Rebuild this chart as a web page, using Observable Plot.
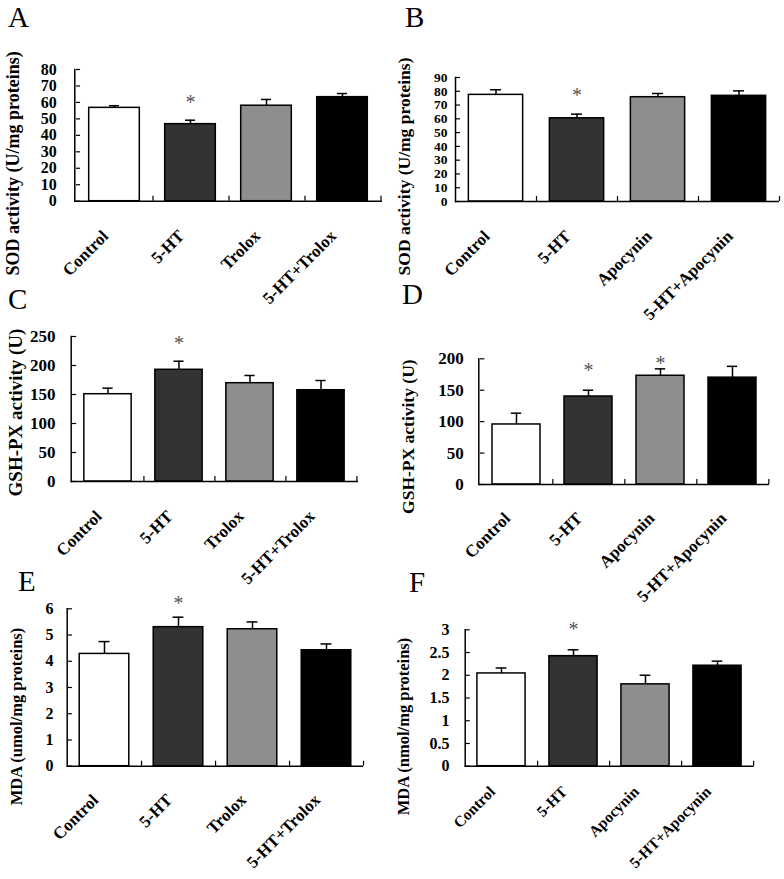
<!DOCTYPE html>
<html><head><meta charset="utf-8">
<script src="https://cdn.jsdelivr.net/npm/d3@7"></script>
<script src="https://cdn.jsdelivr.net/npm/@observablehq/plot@0.6"></script>
<style>
body{margin:0;background:#fff;}
#fig{position:relative;width:784px;height:879px;overflow:hidden;background:#fff;}
.panel{position:absolute;}
.letter{position:absolute;font-family:"Liberation Serif","Times New Roman",serif;font-size:29px;line-height:32px;color:#000;}
</style></head><body><div id="fig"></div>
<script>
// ---- data ----
const groupsTrolox = ["Control", "5-HT", "Trolox", "5-HT+Trolox"];
const groupsApocynin = ["Control", "5-HT", "Apocynin", "5-HT+Apocynin"];
const barFills = ["#ffffff", "#333333", "#8e8e8e", "#000000"];

const sodTroloxMean = [56.7, 46.8, 58.0, 63.2];
const sodTroloxSem = [1.3, 2.4, 3.8, 2.2];
const sodApocyninMean = [77.4, 60.4, 75.7, 76.7];
const sodApocyninSem = [3.7, 3.0, 2.7, 3.6];
const gshTroloxMean = [150.5, 192.6, 169.5, 157.4];
const gshTroloxSem = [10.4, 14.8, 13.3, 16.7];
const gshApocyninMean = [95.5, 140, 173, 170];
const gshApocyninSem = [18, 10, 11, 18];
const mdaTroloxMean = [4.28, 5.30, 5.22, 4.42];
const mdaTroloxSem = [0.47, 0.38, 0.28, 0.24];
const mdaApocyninMean = [2.04, 2.42, 1.80, 2.21];
const mdaApocyninSem = [0.12, 0.14, 0.20, 0.10];

const ticksSodTrolox = [0, 10, 20, 30, 40, 50, 60, 70, 80];
const ticksSodApocynin = [0, 10, 20, 30, 40, 50, 60, 70, 80, 90];
const ticksGshTrolox = [0, 50, 100, 150, 200, 250];
const ticksGshApocynin = [0, 50, 100, 150, 200];
const ticksMdaTrolox = [0, 1, 2, 3, 4, 5, 6];
const ticksMdaApocynin = [0, 0.5, 1, 1.5, 2, 2.5, 3];

// significance markers: [group, y position in data units]
const starsA = [["5-HT", 63]];
const starsB = [["5-HT", 80.5]];
const starsC = [["5-HT", 246]];
const starsD = [["5-HT", 189.5], ["Apocynin", 200]];
const starsE = [["5-HT", 6.4]];
const starsF = [["5-HT", 3.11]];

const panels = [
  {letter: "A", lx: 8, ly: 1, cats: groupsTrolox, means: sodTroloxMean, sem: sodTroloxSem, ticks: ticksSodTrolox, stars: starsA,
   ylabel: "SOD activity (U/mg proteins)", box: {l: 0, t: 0, w: 392, h: 292}, m: {l: 74.3, r: 10, t: 69, b: 91.3},
   tickFont: 16, tickPad: 18, labFont: 18, labDx: -61.3, labDy: 28, xdy: 32, xFont: 17},
  {letter: "B", lx: 405, ly: 1, cats: groupsApocynin, means: sodApocyninMean, sem: sodApocyninSem, ticks: ticksSodApocynin, stars: starsB,
   ylabel: "SOD activity (U/mg proteins)", box: {l: 392, t: 0, w: 392, h: 292}, m: {l: 63, r: 5, t: 77, b: 91},
   tickFont: 13.5, tickPad: 8, labFont: 17.5, labDx: -51.5, labDy: 27, xdy: 32, xFont: 17},
  {letter: "C", lx: 8, ly: 283, cats: groupsTrolox, means: gshTroloxMean, sem: gshTroloxSem, ticks: ticksGshTrolox, stars: starsC,
   ylabel: "GSH-PX activity (U)", box: {l: 0, t: 292, w: 392, h: 270}, m: {l: 70.7, r: 34, t: 44, b: 81},
   tickFont: 17, tickPad: 15.7, labFont: 19, labDx: -55.7, labDy: 3.5, xdy: 32, xFont: 17},
  {letter: "D", lx: 402, ly: 278, cats: groupsApocynin, means: gshApocyninMean, sem: gshApocyninSem, ticks: ticksGshApocynin, stars: starsD,
   ylabel: "GSH-PX activity (U)", box: {l: 392, t: 292, w: 392, h: 270}, m: {l: 86.3, r: 15, t: 66.3, b: 78},
   tickFont: 17, tickPad: 15, labFont: 17.5, labDx: -70.8, labDy: 15, xdy: 31, xFont: 17},
  {letter: "E", lx: 18, ly: 565, cats: groupsTrolox, means: mdaTroloxMean, sem: mdaTroloxSem, ticks: ticksMdaTrolox, stars: starsE,
   ylabel: "MDA (umol/mg proteins)", box: {l: 0, t: 562, w: 392, h: 317}, m: {l: 66.7, r: 29, t: 46.3, b: 113.3},
   tickFont: 16, tickPad: 13.7, labFont: 16.5, labDx: -50.2, labDy: 29, xdy: 31, xFont: 17},
  {letter: "F", lx: 409, ly: 566, cats: groupsApocynin, means: mdaApocyninMean, sem: mdaApocyninSem, ticks: ticksMdaApocynin, stars: starsF,
   ylabel: "MDA (nmol/mg proteins)", box: {l: 392, t: 562, w: 392, h: 317}, m: {l: 72.7, r: 30.3, t: 67.3, b: 113.3},
   tickFont: 16, tickPad: 15.7, labFont: 16.5, labDx: -61.7, labDy: 28.5, xdy: 23, xFont: 15.5}
];

const fig = document.getElementById("fig");
const font = '"Liberation Serif", "Times New Roman", serif';

for (const p of panels) {
  const data = p.cats.map((c, i) => ({cat: c, mean: p.means[i], hi: p.means[i] + p.sem[i], fill: barFills[i]}));
  const frameW = p.box.w - p.m.l - p.m.r;
  const frameH = p.box.h - p.m.t - p.m.b;
  const step = frameW / p.cats.length;
  const ymax = p.ticks[p.ticks.length - 1];
  const barInset = step * 0.165;
  const capInset = step / 2 - 5.5;
  const plot = Plot.plot({
    width: p.box.w, height: p.box.h,
    marginLeft: p.m.l, marginRight: p.m.r, marginTop: p.m.t, marginBottom: p.m.b,
    style: {background: "transparent", fontFamily: font, overflow: "visible"},
    x: {type: "band", domain: p.cats, padding: 0, axis: null},
    y: {domain: [0, ymax], axis: null},
    color: {type: "identity"},
    marks: [
      Plot.ruleX(data, {x: "cat", y1: "mean", y2: "hi", stroke: "#000", strokeWidth: 1.5}),
      Plot.tickY(data, {x: "cat", y: "hi", stroke: "#000", strokeWidth: 1.5, inset: capInset}),
      Plot.barY(data, {x: "cat", y: "mean", fill: "fill", stroke: "#000", strokeWidth: 1.5, insetLeft: barInset, insetRight: barInset}),
      // axes
      Plot.ruleY([0], {stroke: "#000", strokeWidth: 1.5}),
      Plot.frame({anchor: "left", stroke: "#000", strokeWidth: 1.5}),
      Plot.tickY(p.ticks, {y: d => d, x: () => p.cats[0], insetRight: step - 5, stroke: "#000", strokeWidth: 1.2}),
      Plot.ruleX(p.cats, {x: d => d, dx: step / 2, y1: 0, y2: ymax * 5 / frameH, stroke: "#000", strokeWidth: 1.2}),
      Plot.text(p.ticks, {y: d => d, frameAnchor: "left", textAnchor: "end", dx: -p.tickPad, text: d => String(d),
        fontSize: p.tickFont, fontWeight: "bold", fill: "#000"}),
      Plot.text(p.cats, {x: d => d, frameAnchor: "bottom", rotate: -45, textAnchor: "end", lineAnchor: "middle", dx: -9, dy: p.xdy,
        text: d => d, fontSize: p.xFont, fontWeight: "bold", fill: "#000"}),
      Plot.text([p.ylabel], {frameAnchor: "left", rotate: -90, textAnchor: "middle", lineAnchor: "middle", dx: p.labDx, dy: p.labDy, text: d => d,
        fontSize: p.labFont, fontWeight: "bold", fill: "#000"}),
      Plot.text(p.stars, {x: d => d[0], y: d => d[1], text: () => "*", dy: 5, fontSize: 20, fill: "#555"})
    ]
  });
  plot.classList.add("panel");
  plot.style.left = p.box.l + "px";
  plot.style.top = p.box.t + "px";
  plot.style.position = "absolute";
  fig.appendChild(plot);
  const lt = document.createElement("div");
  lt.className = "letter";
  lt.textContent = p.letter;
  lt.style.left = p.lx + "px";
  lt.style.top = p.ly + "px";
  fig.appendChild(lt);
}
</script>
</body></html>
